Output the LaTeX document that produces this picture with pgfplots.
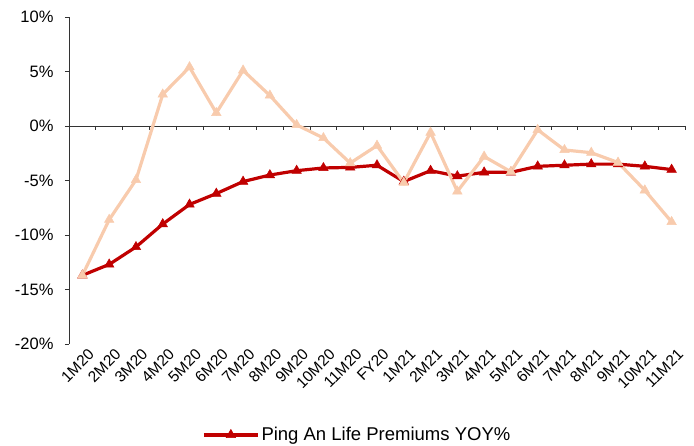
\documentclass[border=0pt]{standalone}
\usepackage{pgfplots}
\pgfplotsset{compat=1.18}
\usepackage{fontspec}
\setmainfont{Liberation Sans}
\definecolor{darkred}{HTML}{C00000}
\definecolor{peach}{HTML}{F8CBAD}

\begin{document}
\begin{tikzpicture}
  % page frame: 694 x 446, axis box at (69,17)-(685,344) from top-left
  \useasboundingbox (-69pt,-102pt) rectangle (625pt,344pt);
  \begin{axis}[
    at={(0,0)}, anchor=south west,
    scale only axis,
    width=616pt, height=327pt,
    xmin=-0.5, xmax=22.5,
    ymin=-20, ymax=10,
    axis y line*=left,
    axis x line*=bottom,
    x axis line style={draw=none},
    y axis line style={line width=0.8pt, black!80},
    xtick={0,...,22},
    xticklabels={1M20,2M20,3M20,4M20,5M20,6M20,7M20,8M20,9M20,10M20,11M20,FY20,
                 1M21,2M21,3M21,4M21,5M21,6M21,7M21,8M21,9M21,10M21,11M21},
    major x tick style={draw=none},
    xticklabel style={rotate=45, anchor=north east, font=\fontsize{15.5}{18}\selectfont, xshift=7pt, yshift=0pt},
    ytick={-20,-15,...,10},
    yticklabels={-20\%,-15\%,-10\%,-5\%,0\%,5\%,10\%},
    yticklabel style={font=\fontsize{16.5}{19}\selectfont, xshift=-8pt},
    tick align=outside,
    major tick length=4pt,
    major y tick style={line width=0.8pt, black!80},
    legend style={at={(0.468,-0.278)}, anchor=center, draw=none,
                  font=\fontsize{18.5}{21}\selectfont},
    legend image code/.code={\draw[mark repeat=2,mark phase=2]
        plot coordinates {(0cm,0cm) (0.95cm,0cm) (1.9cm,0cm)};},
    clip=false,
  ]

  % zero line with its tick marks between categories
  \draw[line width=0.8pt, black!80] (axis cs:-0.5,0) -- (axis cs:22.5,0);
  \pgfplotsinvokeforeach{0,...,23}{
    \draw[line width=0.8pt, black!80] (axis cs:#1-0.5,0) -- ([yshift=-4pt]axis cs:#1-0.5,0);
  }

  \addplot[color=darkred, line width=3.2pt, mark=triangle*,
           mark size=5.5pt, mark options={line width=0.5pt}] coordinates {
    (0,-13.7) (1,-12.7) (2,-11.1) (3,-9.0) (4,-7.2) (5,-6.2) (6,-5.1)
    (7,-4.5) (8,-4.1) (9,-3.85) (10,-3.8) (11,-3.6)
    (12,-5.1) (13,-4.1) (14,-4.6) (15,-4.25) (16,-4.25) (17,-3.7)
    (18,-3.6) (19,-3.5) (20,-3.5) (21,-3.7) (22,-4.0)
  };
  \addlegendentry{Ping An Life Premiums YOY\%}

  \addplot[color=peach, line width=3.2pt, mark=triangle*,
           mark size=5.5pt, mark options={line width=0.5pt}, forget plot] coordinates {
    (0,-13.7) (1,-8.6) (2,-4.95) (3,2.9) (4,5.4) (5,1.2) (6,5.1)
    (7,2.8) (8,0.1) (9,-1.1) (10,-3.4) (11,-1.8)
    (12,-5.2) (13,-0.6) (14,-6.0) (15,-2.8) (16,-4.2) (17,-0.35)
    (18,-2.2) (19,-2.45) (20,-3.35) (21,-5.9) (22,-8.8)
  };

  \end{axis}
\end{tikzpicture}
\end{document}
